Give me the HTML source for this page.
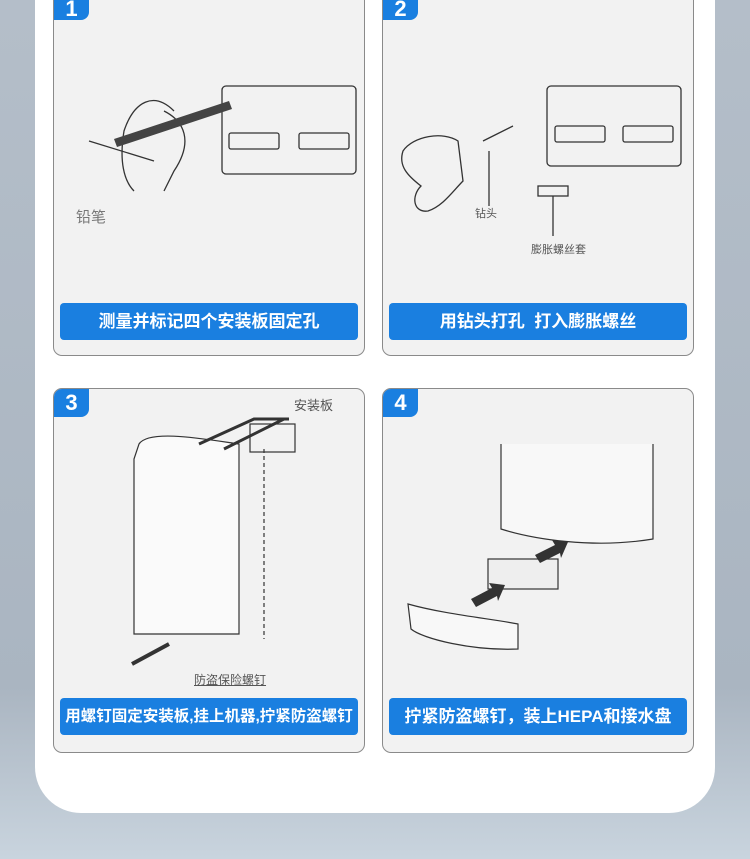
<!DOCTYPE html>
<html><head><meta charset="utf-8"><style>
*{margin:0;padding:0;box-sizing:border-box}
body{width:750px;height:859px;overflow:hidden;position:relative;background:linear-gradient(180deg,#b4bec9 0%,#aab5c1 80%,#c9d4de 100%);font-family:"Liberation Sans","Noto Sans CJK SC",sans-serif}
.panel{position:absolute;left:35px;top:-50px;width:680px;height:863px;background:#fff;border-radius:0 0 46px 46px}
.card{position:absolute;background:#f2f2f2;border:1px solid #8a8a8a;border-radius:9px;overflow:hidden}
.badge{position:absolute;left:0;top:0;width:35px;height:28px;background:#1a7fe0;color:#fff;font-size:22px;font-weight:bold;line-height:28px;text-align:center;border-radius:0 0 8px 0}
.btn{position:absolute;left:6px;right:6px;height:37px;background:#1a7fe0;color:#fff;border-radius:4px;font-size:17px;font-weight:bold;text-align:center;line-height:37px;white-space:nowrap}
svg{position:absolute;left:0;top:0}
.lbl{position:absolute;color:#555;font-size:12px}
</style></head><body>
<div class="panel"></div>

<div class="card" style="left:53px;top:-10px;width:312px;height:366px">
<div class="badge" style="top:0;height:29px;line-height:36px">1</div>
<svg width="312" height="366"><g fill="none" stroke="#333" stroke-width="1.3">
<rect x="168" y="95" width="134" height="88" rx="4"/>
<rect x="175" y="142" width="50" height="16" rx="2"/><rect x="245" y="142" width="50" height="16" rx="2"/>
<path d="M120 120 C100 100 80 110 70 140 C65 170 70 190 80 200 M110 120 C130 130 140 150 120 180 L110 200"/>
<line x1="35" y1="150" x2="100" y2="170"/></g>
<path d="M60 148 L175 110 L178 118 L63 156Z" fill="#444"/>
</svg>
<div class="lbl" style="left:22px;top:215px;font-size:15px;color:#777">铅笔</div>
<div class="btn" style="top:312px">测量并标记四个安装板固定孔</div>
</div>

<div class="card" style="left:382px;top:-10px;width:312px;height:366px">
<div class="badge" style="top:0;height:29px;line-height:36px">2</div>
<svg width="312" height="366"><g fill="none" stroke="#333" stroke-width="1.3">
<rect x="164" y="95" width="134" height="80" rx="4"/>
<rect x="172" y="135" width="50" height="16" rx="2"/><rect x="240" y="135" width="50" height="16" rx="2"/>
<path d="M20 160 C30 145 60 140 75 150 L80 190 C70 200 60 215 45 220 C30 222 28 205 38 195 C25 185 15 175 20 160Z"/>
<line x1="100" y1="150" x2="130" y2="135"/><line x1="106" y1="160" x2="106" y2="215"/>
<rect x="155" y="195" width="30" height="10"/><line x1="170" y1="205" x2="170" y2="245"/></g></svg>
<div class="lbl" style="left:92px;top:214px;font-size:11px">钻头</div>
<div class="lbl" style="left:148px;top:250px;font-size:11px">膨胀螺丝套</div>
<div class="btn" style="top:312px">用钻头打孔&nbsp; 打入膨胀螺丝</div>
</div>

<div class="card" style="left:53px;top:388px;width:312px;height:365px">
<div class="badge">3</div>
<svg width="312" height="365"><g fill="none" stroke="#333" stroke-width="1.2">
<path d="M85 55 C95 40 150 50 185 55 L185 245 L80 245 L80 70Z" fill="#fafafa"/>
<path d="M145 55 L200 30 L235 30 M170 60 L230 30" stroke-width="3"/>
<rect x="196" y="35" width="45" height="28"/>
<line x1="210" y1="60" x2="210" y2="250" stroke-dasharray="4 3"/>
<line x1="78" y1="275" x2="115" y2="255" stroke-width="4"/></g></svg>
<div class="lbl" style="left:240px;top:6px;font-size:13px">安装板</div>
<div class="lbl" style="left:140px;top:282px;font-size:12px;text-decoration:underline">防盗保险螺钉</div>
<div class="btn" style="top:309px;font-size:15.5px">用螺钉固定安装板,挂上机器,拧紧防盗螺钉</div>
</div>

<div class="card" style="left:382px;top:388px;width:312px;height:365px">
<div class="badge">4</div>
<svg width="312" height="365"><g fill="none" stroke="#333" stroke-width="1.2">
<path d="M118 55 L118 140 C150 150 210 160 270 150 L270 55" fill="#f8f8f8"/>
<rect x="105" y="170" width="70" height="30" fill="#eee"/>
<path d="M25 215 C60 225 110 230 135 235 L135 260 C90 262 40 250 28 240Z" fill="#f8f8f8"/></g>
<path d="M122 196 L106 194 L109 199 L88 210 L93 218 L114 207 L115 212Z" fill="#333"/>
<path d="M185 153 L169 151 L172 156 L152 166 L157 174 L177 164 L178 169Z" fill="#333"/></svg>
<div class="btn" style="top:309px">拧紧防盗螺钉，装上HEPA和接水盘</div>
</div>
</body></html>
